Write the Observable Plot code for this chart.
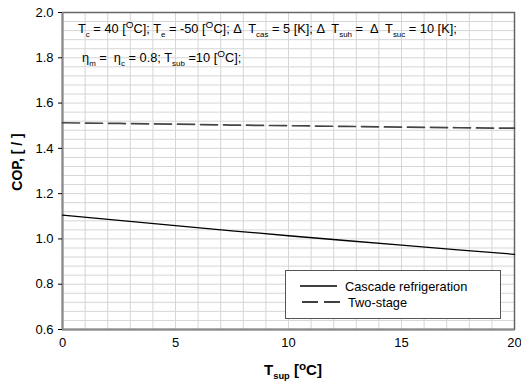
<!DOCTYPE html>
<html>
<head>
<meta charset="utf-8">
<script src="https://cdn.jsdelivr.net/npm/d3@7"></script>
<script src="https://cdn.jsdelivr.net/npm/@observablehq/plot@0.6"></script>
<style>
  html, body { margin: 0; padding: 0; background: #fff; }
  svg { display: block; }
</style>
</head>
<body>
<div id="chart"></div>
<script>
const tsup = [0, 2.5, 5, 7.5, 10, 12.5, 15, 17.5, 20];
const copCascade = [1.105, 1.082, 1.059, 1.036, 1.014, 0.993, 0.973, 0.952, 0.932];
const copTwoStage = [1.513, 1.510, 1.507, 1.503, 1.500, 1.497, 1.494, 1.491, 1.489];
const xTicks = [0, 5, 10, 15, 20];
const yTicks = [0.6, 0.8, 1.0, 1.2, 1.4, 1.6, 1.8, 2.0];
const xGrid = d3.range(0, 21, 1);
const yGrid = d3.range(0, 36).map(i => +(0.6 + i * 0.04).toFixed(2));
const seriesNames = ["Cascade refrigeration", "Two-stage"];

const cascade = tsup.map((t, i) => ({t, cop: copCascade[i]}));
const twoStage = tsup.map((t, i) => ({t, cop: copTwoStage[i]}));

const font = "'Liberation Sans', Arial, sans-serif";

const plot = Plot.plot({
  width: 521,
  height: 385,
  marginLeft: 62,
  marginRight: 7,
  marginTop: 12,
  marginBottom: 56,
  style: {fontFamily: font, fontSize: "13px", background: "#fff", color: "#000"},
  x: {domain: [0, 20]},
  y: {domain: [0.6, 2.0]},
  marks: [
    Plot.gridX(xGrid, {stroke: "#d6d6d6", strokeOpacity: 1, strokeWidth: 1}),
    Plot.gridY(yGrid, {stroke: "#d6d6d6", strokeOpacity: 1, strokeWidth: 1}),
    Plot.frame({stroke: "#666", strokeWidth: 1.5}),
    Plot.ruleX([0], {stroke: "#8a8a8a", strokeWidth: 2}),
    Plot.ruleY([0.6], {stroke: "#8a8a8a", strokeWidth: 2}),
    Plot.axisX({ticks: xTicks, tickSize: 0, tickPadding: 8, tickFormat: d => String(d), label: null, fontSize: 13}),
    Plot.axisY({ticks: yTicks, tickSize: 4, tickPadding: 5, tickFormat: d3.format(".1f"), label: null, fontSize: 13}),
    Plot.line(cascade, {x: "t", y: "cop", stroke: "#000", strokeWidth: 1.3}),
    Plot.line(twoStage, {x: "t", y: "cop", stroke: "#444", strokeWidth: 1.7, strokeDasharray: "17,6"})
  ]
});

document.getElementById("chart").appendChild(plot);
const svg = d3.select(plot);

// helper to append rich text with sub/superscripts
function rich(x, y, parts, size, weight, anchor) {
  const t = svg.append("text")
    .attr("x", x).attr("y", y)
    .attr("font-family", font)
    .attr("font-size", size)
    .attr("font-weight", weight || "normal")
    .attr("text-anchor", anchor || "start")
    .attr("fill", "#000");
  parts.forEach(p => {
    const s = t.append("tspan").text(p.t);
    if (p.sub) { s.attr("font-size", size * 0.62).attr("dy", 4); }
    if (p.sup) { s.attr("font-size", size * 0.78).attr("dy", -5); }
    if (p.back) { s.attr("dy", p.back); }
  });
  return t;
}

// annotation line 1
rich(78, 33, [
  {t: "T"}, {t: "c", sub: true}, {t: " = 40 [", back: -4}, {t: "O", sup: true}, {t: "C]; T", back: 5},
  {t: "e", sub: true}, {t: " = -50 [", back: -4}, {t: "O", sup: true}, {t: "C]; \u0394  T", back: 5},
  {t: "cas", sub: true}, {t: " = 5 [K]; \u0394  T", back: -4}, {t: "suh", sub: true},
  {t: " =  \u0394  T", back: -4}, {t: "suc", sub: true}, {t: " = 10 [K];", back: -4}
], 12.8);

// annotation line 2
rich(82, 62, [
  {t: "\u03b7"}, {t: "m", sub: true}, {t: " =  \u03b7", back: -4}, {t: "c", sub: true},
  {t: " = 0.8; T", back: -4}, {t: "sub", sub: true}, {t: " =10 [", back: -4}, {t: "O", sup: true}, {t: "C];", back: 5}
], 12.8);

// axis labels
svg.append("text")
  .attr("transform", "translate(22,162) rotate(-90)")
  .attr("text-anchor", "middle")
  .attr("font-family", font).attr("font-size", 14).attr("font-weight", "bold")
  .text("COP, [ / ]");

rich(293, 375, [
  {t: "T"}, {t: "sup", sub: true}, {t: " [", back: -4}, {t: "o", sup: true}, {t: "C]", back: 5}
], 15, "bold", "middle");

// legend
const lg = svg.append("g").attr("text-anchor", "start");
lg.append("rect").attr("x", 285.5).attr("y", 270.5).attr("width", 215).attr("height", 48)
  .attr("fill", "#fff").attr("stroke", "#555").attr("stroke-width", 1);
lg.append("line").attr("x1", 300).attr("x2", 337).attr("y1", 286).attr("y2", 286)
  .attr("stroke", "#000").attr("stroke-width", 1.3);
lg.append("line").attr("x1", 302).attr("x2", 340).attr("y1", 302).attr("y2", 302)
  .attr("stroke", "#000").attr("stroke-width", 1.3).attr("stroke-dasharray", "16,6");
lg.append("text").attr("x", 345).attr("y", 290.5).attr("text-anchor", "start")
  .attr("font-family", font).attr("font-size", 12.8).text(seriesNames[0]);
lg.append("text").attr("x", 348).attr("y", 306.5).attr("text-anchor", "start")
  .attr("font-family", font).attr("font-size", 12.8).text(seriesNames[1]);
</script>
</body>
</html>
